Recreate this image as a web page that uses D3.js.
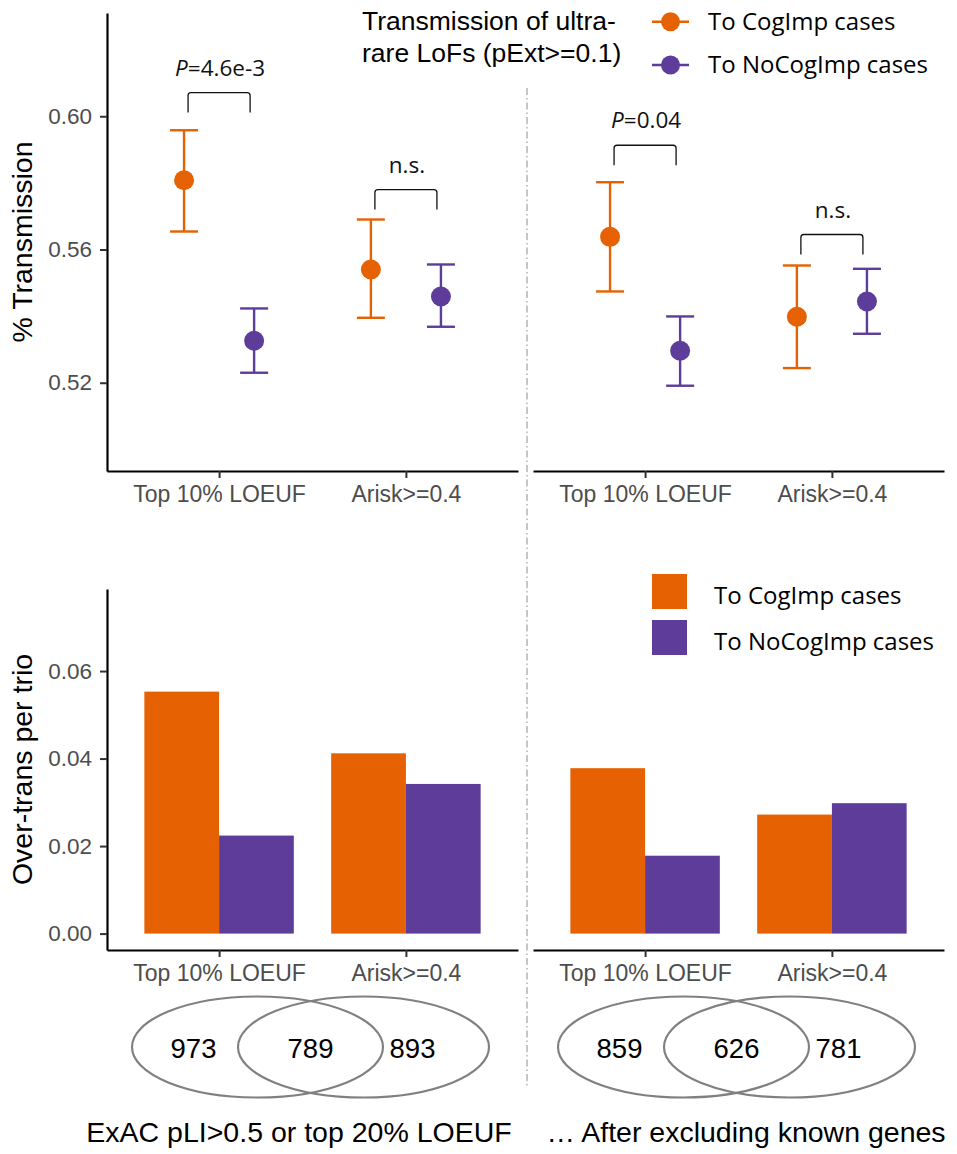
<!DOCTYPE html>
<html>
<head>
<meta charset="utf-8">
<script src="https://cdn.jsdelivr.net/npm/d3@7"></script>
<style>
  body { margin: 0; background: #fff; }
  svg { display: block; }
  .tick text { fill: #4d4d4d; }
</style>
</head>
<body>
<svg id="chart" width="957" height="1154"></svg>
<script>
// ---- data ----
const categories = ["Top 10% LOEUF", "Arisk>=0.4"];
const groups = ["To CogImp cases", "To NoCogImp cases"];
const groupColors = ["#e66101", "#5e3c99"];
const panelTitles = ["ExAC pLI>0.5 or top 20% LOEUF", "\u2026 After excluding known genes"];

// transmission rate [category][group] with 95% interval
const transPointAll  = [[0.5808, 0.5326], [0.5540, 0.5459]];
const transLowAll    = [[0.5654, 0.5230], [0.5395, 0.5368]];
const transHighAll   = [[0.5958, 0.5423], [0.5690, 0.5555]];
const transPointExcl = [[0.5638, 0.5296], [0.5398, 0.5444]];
const transLowExcl   = [[0.5474, 0.5191], [0.5244, 0.5347]];
const transHighExcl  = [[0.5802, 0.5399], [0.5552, 0.5542]];

// over-transmission per trio [category][group]
const overTransAll  = [[0.0553, 0.0224], [0.0412, 0.0342]];
const overTransExcl = [[0.0378, 0.0178], [0.0272, 0.0298]];

// significance annotations per category
const pLabelsAll  = [["P", "=4.6e-3"], ["", "n.s."]];
const pLabelsExcl = [["P", "=0.04"], ["", "n.s."]];
const bracketTopAll  = [0.6071, 0.5780];
const bracketTopExcl = [0.5913, 0.5645];

// gene-set overlaps: only first set, both, only second set
const vennAll  = [973, 789, 893];
const vennExcl = [859, 626, 781];

const transTicks = [0.52, 0.56, 0.60];
const overTicks  = [0.00, 0.02, 0.04, 0.06];
const legendTitle = ["Transmission of ultra-", "rare LoFs (pExt>=0.1)"];

// ---- layout ----
const svg = d3.select("#chart");
svg.append("rect").attr("width", 957).attr("height", 1154).attr("fill", "#fff");

const SANS = "'Liberation Sans', Arial, sans-serif";
const HUMAN = "'Open Sans', 'Noto Sans', sans-serif";

const panelX = [[107, 518], [533, 944]];
const yTrans = d3.scaleLinear().domain([0.4935, 0.631]).range([471, 13]);
const yOver  = d3.scaleLinear().domain([-0.00375, 0.07875]).range([950, 589]);

const panels = [
  { tp: transPointAll, lo: transLowAll, hi: transHighAll, ot: overTransAll,
    pl: pLabelsAll, bt: bracketTopAll, venn: vennAll, title: panelTitles[0], yAxis: true },
  { tp: transPointExcl, lo: transLowExcl, hi: transHighExcl, ot: overTransExcl,
    pl: pLabelsExcl, bt: bracketTopExcl, venn: vennExcl, title: panelTitles[1], yAxis: false }
];

function styleAxis(g, fontSize) {
  g.select(".domain").attr("stroke", "#000").attr("stroke-width", 2.2);
  g.selectAll(".tick line").attr("stroke", "#333").attr("stroke-width", 2);
  g.selectAll(".tick text").attr("font-family", SANS).attr("font-size", fontSize).attr("fill", "#4d4d4d");
}

// dash-dot divider between the two panels
svg.append("line")
  .attr("x1", 527).attr("x2", 527).attr("y1", 88).attr("y2", 1087)
  .attr("stroke", "#a8a8a8").attr("stroke-width", 1.3)
  .attr("stroke-dasharray", "7,3,1.5,3");

panels.forEach((p, pi) => {
  const x = d3.scalePoint().domain(categories).range(panelX[pi]).padding(0.6);
  const step = x.step();
  const dodge = d3.scalePoint().domain(groups).range([-0.1875 * step, 0.1875 * step]);
  const barBand = d3.scaleBand().domain(groups).range([-0.4 * step, 0.4 * step]);

  // ---------- top: transmission point estimates ----------
  const top = svg.append("g");
  const gxT = top.append("g").attr("transform", "translate(0,471)")
    .call(d3.axisBottom(x).tickSize(7).tickSizeOuter(0).tickPadding(7.5));
  styleAxis(gxT, 23);
  if (p.yAxis) {
    const gyT = top.append("g").attr("transform", `translate(${panelX[pi][0]},0)`)
      .call(d3.axisLeft(yTrans).tickValues(transTicks).tickFormat(d3.format(".2f"))
        .tickSize(7).tickSizeOuter(0).tickPadding(8));
    styleAxis(gyT, 22.5);
  }

  categories.forEach((c, ci) => {
    groups.forEach((g, gi) => {
      const cx = x(c) + dodge(g);
      const col = groupColors[gi];
      const eb = top.append("g").attr("stroke", col).attr("stroke-width", 2.4).attr("fill", "none");
      eb.append("line").attr("x1", cx).attr("x2", cx)
        .attr("y1", yTrans(p.lo[ci][gi])).attr("y2", yTrans(p.hi[ci][gi]));
      [p.lo[ci][gi], p.hi[ci][gi]].forEach(v => {
        eb.append("line").attr("x1", cx - 14).attr("x2", cx + 14)
          .attr("y1", yTrans(v)).attr("y2", yTrans(v));
      });
      top.append("circle").attr("cx", cx).attr("cy", yTrans(p.tp[ci][gi]))
        .attr("r", 10).attr("fill", col);
    });

    // significance bracket
    const bx0 = x(c) - 0.166 * step, bx1 = x(c) + 0.166 * step;
    const byTop = yTrans(p.bt[ci]), byLeg = yTrans(p.bt[ci] - 0.006);
    top.append("path")
      .attr("d", `M${bx0},${byLeg} V${byTop + 3} Q${bx0},${byTop} ${bx0 + 3},${byTop} H${bx1 - 3} Q${bx1},${byTop} ${bx1},${byTop + 3} V${byLeg}`)
      .attr("fill", "none").attr("stroke", "#111").attr("stroke-width", 1.3);
    const lab = top.append("text").attr("x", x(c) + 1).attr("y", byTop - 17)
      .attr("text-anchor", "middle").attr("font-family", HUMAN).attr("font-size", 22.5).attr("fill", "#111");
    if (p.pl[ci][0]) lab.append("tspan").attr("font-style", "italic").text(p.pl[ci][0]);
    lab.append("tspan").text(p.pl[ci][1]);
  });

  // ---------- bottom: over-transmission bars ----------
  const bot = svg.append("g");
  categories.forEach((c, ci) => {
    groups.forEach((g, gi) => {
      const v = p.ot[ci][gi];
      bot.append("rect")
        .attr("x", x(c) + barBand(g)).attr("width", barBand.bandwidth())
        .attr("y", yOver(v)).attr("height", yOver(0) - yOver(v))
        .attr("fill", groupColors[gi]);
    });
  });
  const gxB = bot.append("g").attr("transform", "translate(0,950)")
    .call(d3.axisBottom(x).tickSize(7).tickSizeOuter(0).tickPadding(7.5));
  styleAxis(gxB, 23);
  if (p.yAxis) {
    const gyB = bot.append("g").attr("transform", `translate(${panelX[pi][0]},0)`)
      .call(d3.axisLeft(yOver).tickValues(overTicks).tickFormat(d3.format(".2f"))
        .tickSize(7).tickSizeOuter(0).tickPadding(8));
    styleAxis(gyB, 22.5);
  }

  // ---------- Venn of the two gene sets ----------
  const mid = (panelX[pi][0] + panelX[pi][1]) / 2 - 2;
  const venn = svg.append("g");
  [-53, 53].forEach(off => {
    venn.append("ellipse").attr("cx", mid + off).attr("cy", 1047)
      .attr("rx", 125.5).attr("ry", 50.5)
      .attr("fill", "none").attr("stroke", "#808080").attr("stroke-width", 2.2);
  });
  [-117, 0, 102].forEach((off, i) => {
    venn.append("text").attr("x", mid + off).attr("y", 1058)
      .attr("text-anchor", "middle").attr("font-family", SANS).attr("font-size", 27.5)
      .attr("fill", "#000").text(p.venn[i]);
  });

  svg.append("text").attr("x", pi === 0 ? 299 : 746).attr("y", 1142)
    .attr("text-anchor", "middle").attr("font-family", SANS).attr("font-size", 28.5)
    .attr("fill", "#000").text(p.title);
});

// y-axis titles
[["% Transmission", 242], ["Over-trans per trio", 769.5]].forEach(([t, cy]) => {
  svg.append("text").attr("transform", `translate(32,${cy}) rotate(-90)`)
    .attr("text-anchor", "middle").attr("font-family", SANS).attr("font-size", 28.5)
    .attr("fill", "#000").text(t);
});

// ---- legend for the point panels ----
const legT = svg.append("g");
legendTitle.forEach((t, i) => {
  legT.append("text").attr("x", 362).attr("y", 29.5 + i * 32.5)
    .attr("font-family", SANS).attr("font-size", 26.5).attr("fill", "#000").text(t);
});
groups.forEach((g, gi) => {
  const cy = 21.7 + gi * 43.3;
  legT.append("line").attr("x1", 652).attr("x2", 689).attr("y1", cy).attr("y2", cy)
    .attr("stroke", groupColors[gi]).attr("stroke-width", 2.4);
  legT.append("circle").attr("cx", 670.5).attr("cy", cy).attr("r", 9.5).attr("fill", groupColors[gi]);
  legT.append("text").attr("x", 708).attr("y", cy + 8)
    .attr("font-family", HUMAN).attr("font-size", 24).attr("fill", "#000").text(g);
});

// ---- legend for the bar panels ----
const legB = svg.append("g");
groups.forEach((g, gi) => {
  const y0 = 574 + gi * 46;
  legB.append("rect").attr("x", 652).attr("y", y0).attr("width", 35).attr("height", 35)
    .attr("fill", groupColors[gi]);
  legB.append("text").attr("x", 714).attr("y", y0 + 29.5)
    .attr("font-family", HUMAN).attr("font-size", 24).attr("fill", "#000").text(g);
});
</script>
</body>
</html>
